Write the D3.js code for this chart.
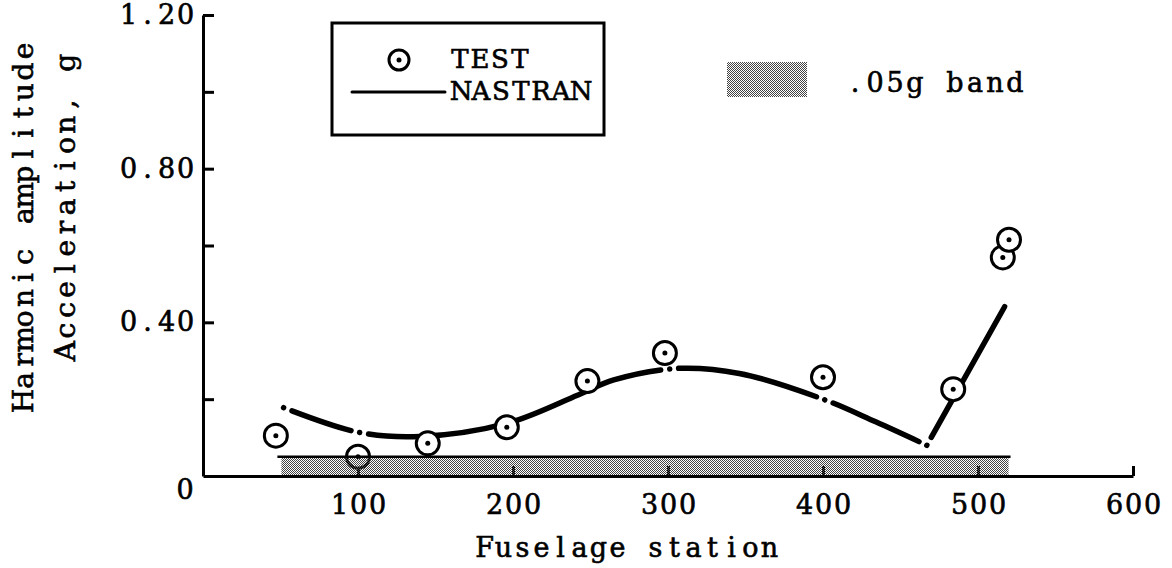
<!DOCTYPE html>
<html lang="en">
<head>
    <meta charset="UTF-8">
    <script src="https://d3js.org/d3.v7.min.js"></script>
    <title>Harmonic amplitude vs fuselage station</title>
</head>
<style>
    body{
        margin: 0;
        background: #fff;
    }
    text{
        font-family: "DejaVu Serif", "Liberation Serif", serif;
        fill: #000;
        stroke: #000;
        stroke-width: 0.6px;
    }
    .eixo path, .eixo line{
        stroke: #000;
        stroke-width: 3px;
    }
</style>
<body>
    <div id='grafico'></div>
</body>
<script>
    // pontos de teste (TEST)
    var estacoesTeste = [47, 100, 145, 196, 248, 298, 400, 484, 516, 520]
    var aceleracaoTeste = [0.105, 0.050, 0.085, 0.127, 0.247, 0.320, 0.257, 0.226, 0.569, 0.615]

    // curva NASTRAN, parte suave e depois o trecho reto
    var estacoesNastran = [52, 100, 140, 196, 242, 265, 306, 346, 400, 434, 467]
    var aceleracaoNastran = [0.178, 0.114, 0.103, 0.137, 0.211, 0.250, 0.280, 0.267, 0.200, 0.141, 0.080]
    var estacoesReta = [467, 520]
    var aceleracaoReta = [0.080, 0.461]
    var nosNastran = [101, 301, 401]

    // faixa de .05g
    var faixaEstacoes = [48, 521]
    var faixaValor = 0.05

    var xTicks = [100, 200, 300, 400, 500, 600]
    var yTicks = [0.2, 0.4, 0.6, 0.8, 1.0, 1.2]
    var yRotulos = ['', '0.40', '', '0.80', '', '1.20']

    // espaçamento fixo de máquina de escrever
    function posicoes(n, x, ancora, passo) {
        var ini = ancora === 'start' ? x : ancora === 'end' ? x - n * passo : x - n * passo / 2
        return d3.range(n).map(i => ini + (i + 0.5) * passo).join(' ')
    }

    function texto(alvo, s, x, y, ancora, passo, tamanho) {
        return alvo.append('text')
        .attr('x', posicoes(s.length, x, ancora, passo))
        .attr('y', y)
        .attr('text-anchor', 'middle')
        .attr('font-size', tamanho)
        .text(s)
    }

    var svg = d3.select('#grafico')
    .append('svg')
    .attr('width', 1172)
    .attr('height', 568)

    var defs = svg.append('defs')
    var padrao = defs.append('pattern')
    .attr('id', 'pontilhado')
    .attr('patternUnits', 'userSpaceOnUse')
    .attr('width', 2)
    .attr('height', 2)
    padrao.append('rect').attr('x', 0).attr('y', 0).attr('width', 1).attr('height', 1).attr('fill', '#444')
    padrao.append('rect').attr('x', 1).attr('y', 1).attr('width', 1).attr('height', 1).attr('fill', '#444')

    var xScale = d3.scaleLinear()
    .domain([0, 600])
    .range([203, 1133])

    var yScale = d3.scaleLinear()
    .domain([0, 1.2])
    .range([476, 15])

    var xAxis = d3.axisBottom(xScale)
    .tickValues(xTicks)
    .tickFormat(d3.format('d'))
    .tickSizeInner(-10)
    .tickSizeOuter(0)
    .tickPadding(19)

    var yAxis = d3.axisLeft(yScale)
    .tickValues(yTicks)
    .tickFormat((d, i) => yRotulos[i])
    .tickSizeInner(-11)
    .tickSizeOuter(0)
    .tickPadding(10)

    var gx = svg.append('g')
    .attr('class', 'eixo')
    .attr('transform', 'translate(0,' + yScale(0) + ')')
    .call(xAxis)
    .attr('font-size', 27)

    gx.selectAll('text').each(function () {
        var t = d3.select(this), s = t.text()
        t.attr('x', posicoes(s.length, 0, 'middle', 19)).attr('text-anchor', 'middle')
    })

    var gy = svg.append('g')
    .attr('class', 'eixo')
    .attr('transform', 'translate(' + xScale(0) + ',0)')
    .call(yAxis)
    .attr('font-size', 27)

    gy.selectAll('text').each(function () {
        var t = d3.select(this), s = t.text()
        t.attr('x', posicoes(s.length, -8, 'end', 19)).attr('text-anchor', 'middle')
    })

    svg.selectAll('.eixo text').attr('font-family', null)

    texto(svg, '0', xScale(0) - 18, yScale(0) + 23, 'middle', 19, 27)

    texto(svg, 'Fuselage station', 627, 557, 'middle', 19, 27)

    texto(svg.append('g').attr('transform', 'translate(33,226) rotate(-90)'),
        'Harmonic amplitude', 0, 0, 'middle', 20.6, 28)

    texto(svg.append('g').attr('transform', 'translate(75,207) rotate(-90)'),
        'Acceleration, g', 0, 0, 'middle', 20.6, 28)

    // curva NASTRAN
    var linha = d3.line()
    .x(d => xScale(d[0]))
    .y(d => yScale(d[1]))

    var g = 9

    var suave = svg.append('path')
    .datum(estacoesNastran.map((v, i) => [v, aceleracaoNastran[i]]))
    .attr('d', linha.curve(d3.curveCatmullRom))
    .attr('fill', 'none')
    .attr('stroke', '#000')
    .attr('stroke-width', 5.5)
    .attr('stroke-linecap', 'round')

    function comprimentoEm(caminho, xAlvo) {
        var lo = 0, hi = caminho.getTotalLength()
        for (var k = 0; k < 30; k++) {
            var meio = (lo + hi) / 2
            if (caminho.getPointAtLength(meio).x < xAlvo) lo = meio
            else hi = meio
        }
        return lo
    }

    var no = suave.node(), total = no.getTotalLength()
    var tracos = [0.01, g], pos = g
    nosNastran.forEach((n) => {
        var c = comprimentoEm(no, xScale(n))
        tracos.push(c - g - pos, g, 0.01, g)
        pos = c + g
    })
    tracos.push(total - g - pos, g, 0.01, 1000)
    suave.attr('stroke-dasharray', tracos.join(' '))

    var reta = svg.append('path')
    .datum(estacoesReta.map((v, i) => [v, aceleracaoReta[i]]))
    .attr('d', linha.curve(d3.curveLinear))
    .attr('fill', 'none')
    .attr('stroke', '#000')
    .attr('stroke-width', 5.5)
    .attr('stroke-linecap', 'round')
    var totalReta = reta.node().getTotalLength()
    reta.attr('stroke-dasharray', [0.01, g, totalReta - 2 * g, g, 0.01, 1000].join(' '))

    // pontos de teste
    var pontos = svg.selectAll('.ponto')
    .data(estacoesTeste)
    .enter()
    .append('g')
    .attr('class', 'ponto')
    .attr('transform', (d, i) => 'translate(' + xScale(d) + ',' + yScale(aceleracaoTeste[i]) + ')')

    pontos.append('circle')
    .attr('r', 11.5)
    .attr('fill', '#fff')
    .attr('stroke', '#000')
    .attr('stroke-width', 3)

    pontos.append('circle')
    .attr('r', 2.5)
    .attr('fill', '#000')

    // faixa
    svg.append('rect')
    .attr('x', xScale(faixaEstacoes[0]) + 4)
    .attr('y', yScale(faixaValor))
    .attr('width', xScale(faixaEstacoes[1]) - xScale(faixaEstacoes[0]) - 6)
    .attr('height', yScale(0) - yScale(faixaValor) - 1)
    .attr('fill', 'url(#pontilhado)')

    svg.append('line')
    .attr('x1', xScale(faixaEstacoes[0]))
    .attr('x2', xScale(faixaEstacoes[1]))
    .attr('y1', yScale(faixaValor))
    .attr('y2', yScale(faixaValor))
    .attr('stroke', '#000')
    .attr('stroke-width', 2.5)

    // legenda
    var legenda = svg.append('g')

    legenda.append('rect')
    .attr('x', 332)
    .attr('y', 23)
    .attr('width', 272)
    .attr('height', 112)
    .attr('fill', 'none')
    .attr('stroke', '#000')
    .attr('stroke-width', 3)

    legenda.append('circle')
    .attr('cx', 399).attr('cy', 60).attr('r', 10)
    .attr('fill', 'none').attr('stroke', '#000').attr('stroke-width', 3)

    legenda.append('circle')
    .attr('cx', 399).attr('cy', 60).attr('r', 2.5)
    .attr('fill', '#000')

    legenda.append('line')
    .attr('x1', 352).attr('x2', 445).attr('y1', 92).attr('y2', 92)
    .attr('stroke', '#000').attr('stroke-width', 3).attr('stroke-linecap', 'round')

    texto(legenda, 'TEST', 450, 68, 'start', 20, 26)
    texto(legenda, 'NASTRAN', 451, 100, 'start', 20, 26)

    legenda.append('rect')
    .attr('x', 727).attr('y', 62).attr('width', 80).attr('height', 35)
    .attr('fill', 'url(#pontilhado)')

    texto(legenda, '.05g band', 845, 92, 'start', 20, 27)
</script>
</html>
